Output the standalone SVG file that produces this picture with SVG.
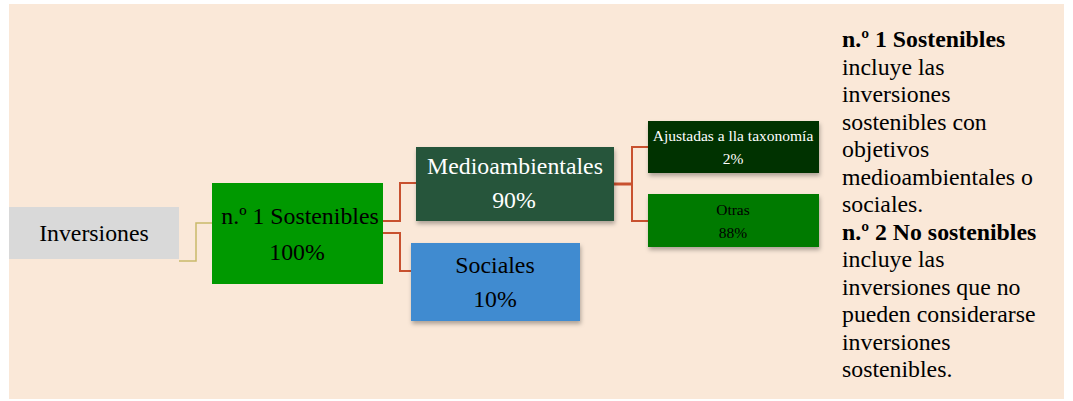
<svg xmlns="http://www.w3.org/2000/svg" width="1073" height="401" viewBox="0 0 1073 401">
<defs>
<filter id="sh" x="-10%" y="-10%" width="125%" height="135%">
<feDropShadow dx="1" dy="3" stdDeviation="2" flood-color="#000" flood-opacity="0.3"/>
</filter>
<style>
text{font-family:"Liberation Serif","Times New Roman",serif;}
.big{font-size:23.8px;text-anchor:middle;}
.sm{font-size:15.5px;text-anchor:middle;}
.side{font-size:23.8px;fill:#000;}
.c{fill:none;stroke:#C8512F;stroke-width:2;}
</style>
</defs>
<rect x="0" y="0" width="1073" height="401" fill="#ffffff"/>
<rect x="9" y="4" width="1055" height="395" fill="#FAE8D8"/>
<g id="connectors">
<polyline points="179,261 196,261 196,223 212,223" fill="none" stroke="#C9B96A" stroke-width="1.5"/>
<polyline class="c" points="383,221 400,221 400,183 416,183"/>
<polyline class="c" points="383,233 400,233 400,271 411,271"/>
<polyline class="c" points="614,184 632,184" style="stroke-width:3"/>
<polyline class="c" points="648,147 632,147 632,221 648,221"/>
</g>
<g id="inversiones">
<rect x="9" y="207" width="170" height="52" fill="#D9D9D9"/>
<text class="big" x="94" y="241">Inversiones</text>
</g>
<g id="sostenibles">
<rect x="212" y="183" width="171" height="101" fill="#009900"/>
<text class="big" x="300" y="224">n.º 1 Sostenibles</text>
<text class="big" x="297" y="260">100%</text>
</g>
<g id="medioambientales">
<rect x="416" y="147" width="198" height="74" fill="#25553A" filter="url(#sh)"/>
<text class="big" x="515" y="174" fill="#ffffff">Medioambientales</text>
<text class="big" x="514" y="208" fill="#ffffff">90%</text>
</g>
<g id="sociales">
<rect x="411" y="243" width="169" height="78" fill="#3F8BD0" filter="url(#sh)"/>
<text class="big" x="495" y="273">Sociales</text>
<text class="big" x="495" y="307">10%</text>
</g>
<g id="ajustadas">
<rect x="648" y="121" width="171" height="52" fill="#003300" filter="url(#sh)"/>
<text class="sm" x="733" y="141" fill="#ffffff">Ajustadas a lla taxonomía</text>
<text class="sm" x="733" y="164" fill="#ffffff">2%</text>
</g>
<g id="otras">
<rect x="648" y="194" width="171" height="53" fill="#007A00" filter="url(#sh)"/>
<text class="sm" x="733" y="215">Otras</text>
<text class="sm" x="733" y="238">88%</text>
</g>
<g id="leyenda">
<text class="side" x="842" y="47" font-weight="bold">n.º 1 Sostenibles</text>
<text class="side" x="842" y="75">incluye las</text>
<text class="side" x="842" y="102">inversiones</text>
<text class="side" x="842" y="130">sostenibles con</text>
<text class="side" x="842" y="157">objetivos</text>
<text class="side" x="842" y="185">medioambientales o</text>
<text class="side" x="842" y="212">sociales.</text>
<text class="side" x="842" y="240" font-weight="bold">n.º 2 No sostenibles</text>
<text class="side" x="842" y="267">incluye las</text>
<text class="side" x="842" y="295">inversiones que no</text>
<text class="side" x="842" y="322">pueden considerarse</text>
<text class="side" x="842" y="350">inversiones</text>
<text class="side" x="842" y="377">sostenibles.</text>
</g>
</svg>
